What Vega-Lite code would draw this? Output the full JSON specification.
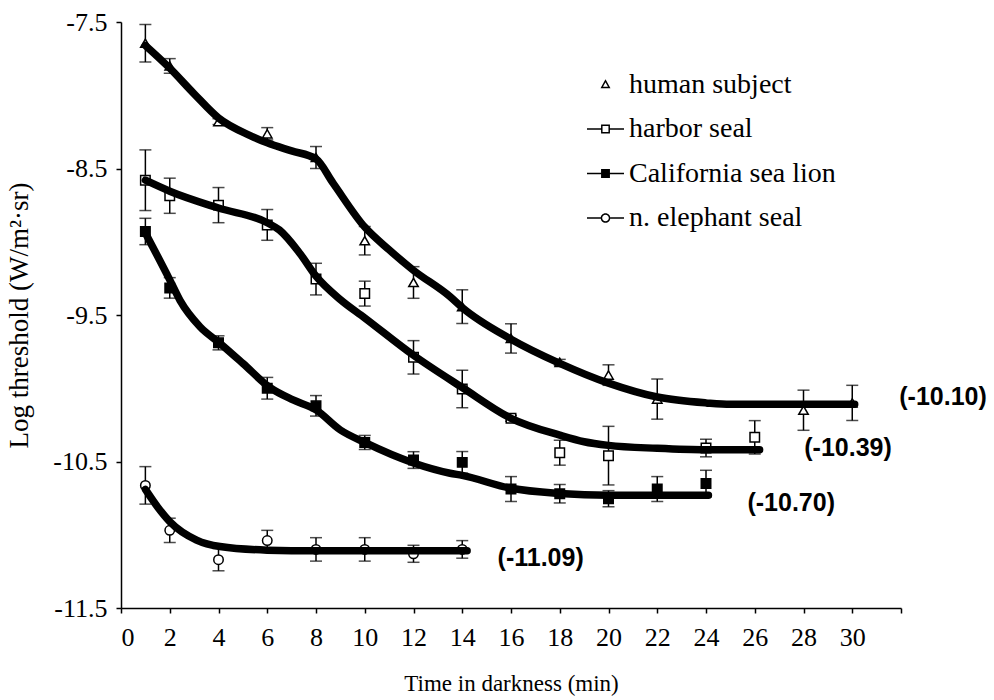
{
  "$schema": "https://vega.github.io/schema/vega-lite/v6.json",
  "width": 780,
  "height": 586,
  "autosize": "none",
  "padding": {"left": 121, "top": 22, "right": 93, "bottom": 92},
  "background": "white",
  "config": {
    "font": "Liberation Serif",
    "view": {"stroke": null},
    "axis": {
      "grid": false,
      "domainColor": "black",
      "domainWidth": 1.5,
      "tickColor": "black",
      "tickWidth": 1.5,
      "tickSize": 5,
      "labelFont": "Liberation Serif",
      "labelFontSize": 26,
      "labelColor": "black",
      "titleFont": "Liberation Serif",
      "titleFontSize": 24,
      "titleFontWeight": "normal",
      "titleColor": "black"
    }
  },
  "datasets": {
    "points": [
      {"species": "human subject", "t": 1, "v": -7.645, "err": 0.128},
      {"species": "human subject", "t": 2, "v": -7.8, "err": 0.05},
      {"species": "human subject", "t": 4, "v": -8.18, "err": 0.02},
      {"species": "human subject", "t": 6, "v": -8.263, "err": 0.042},
      {"species": "human subject", "t": 8, "v": -8.425, "err": 0.075},
      {"species": "human subject", "t": 10, "v": -8.993, "err": 0.097},
      {"species": "human subject", "t": 12, "v": -9.278, "err": 0.108},
      {"species": "human subject", "t": 14, "v": -9.443, "err": 0.115},
      {"species": "human subject", "t": 16, "v": -9.66, "err": 0.1},
      {"species": "human subject", "t": 18, "v": -9.823, "err": 0.02},
      {"species": "human subject", "t": 20, "v": -9.91, "err": 0.07},
      {"species": "human subject", "t": 22, "v": -10.074, "err": 0.137},
      {"species": "human subject", "t": 28, "v": -10.15, "err": 0.137},
      {"species": "human subject", "t": 30, "v": -10.1, "err": 0.12},
      {"species": "harbor seal", "t": 1, "v": -8.58, "err": 0.207},
      {"species": "harbor seal", "t": 2, "v": -8.686, "err": 0.12},
      {"species": "harbor seal", "t": 4, "v": -8.75, "err": 0.12},
      {"species": "harbor seal", "t": 6, "v": -8.885, "err": 0.105},
      {"species": "harbor seal", "t": 8, "v": -9.255, "err": 0.108},
      {"species": "harbor seal", "t": 10, "v": -9.354, "err": 0.085},
      {"species": "harbor seal", "t": 12, "v": -9.789, "err": 0.114},
      {"species": "harbor seal", "t": 14, "v": -10.005, "err": 0.128},
      {"species": "harbor seal", "t": 16, "v": -10.205, "err": 0.02},
      {"species": "harbor seal", "t": 18, "v": -10.44, "err": 0.085},
      {"species": "harbor seal", "t": 20, "v": -10.46, "err": 0.2},
      {"species": "harbor seal", "t": 24, "v": -10.408, "err": 0.06},
      {"species": "harbor seal", "t": 26, "v": -10.335, "err": 0.114},
      {"species": "California sea lion", "t": 1, "v": -8.93, "err": 0.09},
      {"species": "California sea lion", "t": 2, "v": -9.315, "err": 0.07},
      {"species": "California sea lion", "t": 4, "v": -9.69, "err": 0.048},
      {"species": "California sea lion", "t": 6, "v": -10.0, "err": 0.074},
      {"species": "California sea lion", "t": 8, "v": -10.12, "err": 0.07},
      {"species": "California sea lion", "t": 10, "v": -10.37, "err": 0.048},
      {"species": "California sea lion", "t": 12, "v": -10.49, "err": 0.057},
      {"species": "California sea lion", "t": 14, "v": -10.506, "err": 0.074},
      {"species": "California sea lion", "t": 16, "v": -10.688, "err": 0.085},
      {"species": "California sea lion", "t": 18, "v": -10.72, "err": 0.063},
      {"species": "California sea lion", "t": 20, "v": -10.754, "err": 0.055},
      {"species": "California sea lion", "t": 22, "v": -10.688, "err": 0.085},
      {"species": "California sea lion", "t": 24, "v": -10.65, "err": 0.09},
      {"species": "n. elephant seal", "t": 1, "v": -10.663, "err": 0.128},
      {"species": "n. elephant seal", "t": 2, "v": -10.97, "err": 0.083},
      {"species": "n. elephant seal", "t": 4, "v": -11.17, "err": 0.076},
      {"species": "n. elephant seal", "t": 6, "v": -11.04, "err": 0.07},
      {"species": "n. elephant seal", "t": 8, "v": -11.1, "err": 0.08},
      {"species": "n. elephant seal", "t": 10, "v": -11.1, "err": 0.08},
      {"species": "n. elephant seal", "t": 12, "v": -11.13, "err": 0.058},
      {"species": "n. elephant seal", "t": 14, "v": -11.1, "err": 0.06}
    ],
    "fits": [
      {"species": "human subject", "t": 1, "v": -7.66},
      {"species": "human subject", "t": 2, "v": -7.815},
      {"species": "human subject", "t": 3, "v": -7.99},
      {"species": "human subject", "t": 4, "v": -8.155},
      {"species": "human subject", "t": 5.3, "v": -8.275},
      {"species": "human subject", "t": 6, "v": -8.325},
      {"species": "human subject", "t": 7, "v": -8.38},
      {"species": "human subject", "t": 8, "v": -8.435},
      {"species": "human subject", "t": 8.7, "v": -8.6},
      {"species": "human subject", "t": 10, "v": -8.9},
      {"species": "human subject", "t": 11, "v": -9.055},
      {"species": "human subject", "t": 12, "v": -9.195},
      {"species": "human subject", "t": 13.5, "v": -9.375},
      {"species": "human subject", "t": 14, "v": -9.45},
      {"species": "human subject", "t": 16, "v": -9.665},
      {"species": "human subject", "t": 18, "v": -9.83},
      {"species": "human subject", "t": 20, "v": -9.965},
      {"species": "human subject", "t": 22, "v": -10.06},
      {"species": "human subject", "t": 24, "v": -10.1},
      {"species": "human subject", "t": 25, "v": -10.11},
      {"species": "human subject", "t": 30.1, "v": -10.11},
      {"species": "harbor seal", "t": 1, "v": -8.58},
      {"species": "harbor seal", "t": 2, "v": -8.655},
      {"species": "harbor seal", "t": 4, "v": -8.77},
      {"species": "harbor seal", "t": 6, "v": -8.87},
      {"species": "harbor seal", "t": 6.5, "v": -8.92},
      {"species": "harbor seal", "t": 7.34, "v": -9.08},
      {"species": "harbor seal", "t": 8, "v": -9.235},
      {"species": "harbor seal", "t": 9, "v": -9.395},
      {"species": "harbor seal", "t": 10, "v": -9.52},
      {"species": "harbor seal", "t": 12, "v": -9.775},
      {"species": "harbor seal", "t": 14, "v": -9.995},
      {"species": "harbor seal", "t": 16, "v": -10.205},
      {"species": "harbor seal", "t": 18, "v": -10.32},
      {"species": "harbor seal", "t": 19, "v": -10.365},
      {"species": "harbor seal", "t": 20, "v": -10.39},
      {"species": "harbor seal", "t": 22, "v": -10.41},
      {"species": "harbor seal", "t": 24, "v": -10.42},
      {"species": "harbor seal", "t": 26.2, "v": -10.42},
      {"species": "California sea lion", "t": 1, "v": -8.94},
      {"species": "California sea lion", "t": 2, "v": -9.26},
      {"species": "California sea lion", "t": 2.42, "v": -9.4},
      {"species": "California sea lion", "t": 3.24, "v": -9.58},
      {"species": "California sea lion", "t": 4.06, "v": -9.693},
      {"species": "California sea lion", "t": 5, "v": -9.83},
      {"species": "California sea lion", "t": 6.1, "v": -9.994},
      {"species": "California sea lion", "t": 7.06, "v": -10.08},
      {"species": "California sea lion", "t": 8, "v": -10.148},
      {"species": "California sea lion", "t": 9, "v": -10.285},
      {"species": "California sea lion", "t": 10, "v": -10.37},
      {"species": "California sea lion", "t": 12, "v": -10.51},
      {"species": "California sea lion", "t": 13.5, "v": -10.58},
      {"species": "California sea lion", "t": 14, "v": -10.595},
      {"species": "California sea lion", "t": 16, "v": -10.683},
      {"species": "California sea lion", "t": 18, "v": -10.718},
      {"species": "California sea lion", "t": 20, "v": -10.73},
      {"species": "California sea lion", "t": 24.1, "v": -10.73},
      {"species": "n. elephant seal", "t": 1, "v": -10.69},
      {"species": "n. elephant seal", "t": 1.5, "v": -10.81},
      {"species": "n. elephant seal", "t": 2, "v": -10.91},
      {"species": "n. elephant seal", "t": 3.1, "v": -11.036},
      {"species": "n. elephant seal", "t": 4.06, "v": -11.08},
      {"species": "n. elephant seal", "t": 6, "v": -11.105},
      {"species": "n. elephant seal", "t": 8, "v": -11.11},
      {"species": "n. elephant seal", "t": 14.2, "v": -11.11}
    ],
    "notes": [
      {"label": "(-10.10)", "t": 31.93, "v": -10.06},
      {"label": "(-10.39)", "t": 28.03, "v": -10.41},
      {"label": "(-10.70)", "t": 25.7, "v": -10.78},
      {"label": "(-11.09)", "t": 15.45, "v": -11.16}
    ]
  },
  "layer": [
    {
      "data": {"name": "points"},
      "mark": {"type": "errorbar", "color": "black", "thickness": 1.5, "ticks": {"size": 12, "thickness": 1.5, "color": "black"}},
      "encoding": {
        "x": {"field": "t", "type": "quantitative", "scale": {"domain": [0, 32], "nice": false},
          "axis": {"values": [0,1,2,3,4,5,6,7,8,9,10,11,12,13,14,15,16,17,18,19,20,21,22,23,24,25,26,27,28,29,30,31,32],
            "labelExpr": "datum.value % 2 == 0 && datum.value <= 30 ? datum.label : ''",
            "labelFont": "Liberation Serif", "labelFontSize": 26,
            "labelPadding": 11, "title": "Time in darkness (min)", "titleFontSize": 23, "titlePadding": 22}},
        "y": {"field": "v", "type": "quantitative", "scale": {"domain": [-11.5, -7.5], "nice": false, "zero": false},
          "axis": {"values": [-7.5, -8.5, -9.5, -10.5, -11.5],
            "labelExpr": "'-' + format(abs(datum.value), '.1f')",
            "labelFont": "Liberation Serif", "labelFontSize": 26,
            "labelPadding": 9, "title": "Log threshold (W/m²·sr)", "titleFontSize": 27, "titlePadding": 19}},
        "yError": {"field": "err"}
      }
    },
    {
      "data": {"name": "points"},
      "mark": {"type": "point", "filled": true, "stroke": "black", "strokeWidth": 1.5, "size": 90, "opacity": 1},
      "encoding": {
        "x": {"field": "t", "type": "quantitative"},
        "y": {"field": "v", "type": "quantitative"},
        "shape": {"field": "species", "type": "nominal", "legend": null,
          "scale": {"domain": ["human subject", "harbor seal", "California sea lion", "n. elephant seal"],
            "range": ["triangle-up", "square", "square", "circle"]}},
        "fill": {"field": "species", "type": "nominal", "legend": null,
          "scale": {"domain": ["human subject", "harbor seal", "California sea lion", "n. elephant seal"],
            "range": ["white", "white", "black", "white"]}}
      }
    },
    {
      "data": {"name": "fits"},
      "mark": {"type": "line", "color": "black", "strokeWidth": 7.5, "interpolate": "monotone", "strokeCap": "round"},
      "encoding": {
        "x": {"field": "t", "type": "quantitative"},
        "y": {"field": "v", "type": "quantitative"},
        "detail": {"field": "species"}
      }
    },
    {
      "data": {"name": "notes"},
      "mark": {"type": "text", "font": "Liberation Sans", "fontWeight": "bold", "fontSize": 25, "align": "left", "baseline": "middle", "color": "black"},
      "encoding": {
        "x": {"field": "t", "type": "quantitative"},
        "y": {"field": "v", "type": "quantitative"},
        "text": {"field": "label"}
      }
    },
    {
      "data": {"name": "points"},
      "transform": [{"filter": "false"}],
      "mark": {"type": "point", "filled": true, "color": "black"},
      "encoding": {
        "shape": {"field": "species", "type": "nominal",
          "scale": {"domain": ["human subject", "harbor seal", "California sea lion", "n. elephant seal"],
            "range": ["M0,-0.28L0.27,0.2L-0.27,0.2Z M0,-0.12L-0.135,0.12L0.135,0.12Z",
              "M-1,-0.04L-0.24,-0.04L-0.24,0.04L-1,0.04Z M0.24,-0.04L1,-0.04L1,0.04L0.24,0.04Z M-0.24,-0.24L0.24,-0.24L0.24,0.24L-0.24,0.24Z M-0.16,-0.16L-0.16,0.16L0.16,0.16L0.16,-0.16Z",
              "M-1,-0.04L-0.24,-0.04L-0.24,0.04L-1,0.04Z M0.24,-0.04L1,-0.04L1,0.04L0.24,0.04Z M-0.24,-0.24L0.24,-0.24L0.24,0.24L-0.24,0.24Z",
              "M-1,-0.04L-0.26,-0.04L-0.26,0.04L-1,0.04Z M0.26,-0.04L1,-0.04L1,0.04L0.26,0.04Z M0.26,0A0.26,0.26,0,1,1,-0.26,0A0.26,0.26,0,1,1,0.26,0Z M0.18,0A0.18,0.18,0,1,0,-0.18,0A0.18,0.18,0,1,0,0.18,0Z"]},
          "legend": {"orient": "none", "legendX": 465, "legendY": 43, "title": null, "padding": 0,
            "symbolSize": 1369, "symbolOpacity": 1,
            "labelFont": "Liberation Serif", "labelFontSize": 28, "labelColor": "black", "labelOffset": 4,
            "rowPadding": 10.5, "labelLimit": 400}}
      }
    }
  ],
  "resolve": {"scale": {"shape": "independent", "fill": "independent"}}
}
